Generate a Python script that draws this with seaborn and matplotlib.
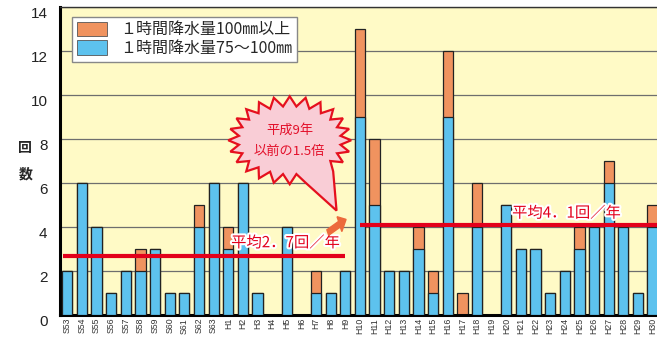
import numpy as np
import pandas as pd
import matplotlib
matplotlib.use("Agg")
import matplotlib.pyplot as plt
import matplotlib.patheffects as pe
import matplotlib.transforms as mtransforms
from matplotlib.patches import Patch, Polygon, FancyArrow
import seaborn as sns

# 年度ラベル
years = ["S53", "S54", "S55", "S56", "S57", "S58", "S59", "S60", "S61", "S62", "S63",
         "H1", "H2", "H3", "H4", "H5", "H6", "H7", "H8", "H9", "H10",
         "H11", "H12", "H13", "H14", "H15", "H16", "H17", "H18", "H19", "H20",
         "H21", "H22", "H23", "H24", "H25", "H26", "H27", "H28", "H29", "H30"]
# 1時間降水量75～100mm の回数
count_75_100 = [2, 6, 4, 1, 2, 2, 3, 1, 1, 4, 6,
                3, 6, 1, 0, 4, 0, 1, 1, 2, 9,
                5, 2, 2, 3, 1, 9, 0, 4, 0, 5,
                3, 3, 1, 2, 3, 4, 6, 4, 1, 4]
# 1時間降水量100mm以上 の回数
count_100 = [0, 0, 0, 0, 0, 1, 0, 0, 0, 1, 0,
             1, 0, 0, 0, 0, 0, 1, 0, 0, 4,
             3, 0, 0, 1, 1, 3, 1, 2, 0, 0,
             0, 0, 0, 0, 1, 0, 1, 0, 0, 1]
avg_before = 2.7   # S53～H9
avg_after = 4.1    # H10～H30

df = pd.DataFrame({"year": years, "c75": count_75_100, "c100": count_100})
df["total"] = df["c75"] + df["c100"]

blue = "#5DC2EE"
orange = "#F0935F"
red = "#E3001B"

sns.set_theme(style="white")
plt.rcParams["font.family"] = ["Noto Sans CJK JP", "DejaVu Sans"]

fig = plt.figure(figsize=(6.57, 3.40), dpi=100)
ax = fig.add_axes([0.0913, 0.0735, 0.9087, 0.905])
ax.set_facecolor("#FFFAC6")

# 積み上げ棒（合計をオレンジ、その上に青）
sns.barplot(data=df, x="year", y="total", order=years, color=orange,
            width=0.7, edgecolor="#222222", linewidth=0.9, saturation=1,
            ax=ax, zorder=2)
sns.barplot(data=df, x="year", y="c75", order=years, color=blue,
            width=0.7, edgecolor="#222222", linewidth=0.9, saturation=1,
            ax=ax, zorder=3)

ax.set_xlim(-0.5, 40.3)
ax.set_ylim(0, 14)
ax.set_yticks(range(0, 15, 2))
for y in range(2, 15, 2):
    ax.axhline(y, color="#6E6E6E", lw=0.9, zorder=1)

ax.tick_params(axis="x", labelsize=6.3, labelrotation=90, length=0, pad=2, colors="#333333")
ax.tick_params(axis="y", labelsize=11, length=0, pad=9, colors="#222222")
shift = mtransforms.ScaledTranslation(0, -4 / 72, fig.dpi_scale_trans)
for lab in ax.get_yticklabels():
    lab.set_family(["Liberation Sans", "DejaVu Sans"])
    lab.set_transform(lab.get_transform() + shift)
for lab in ax.get_xticklabels():
    lab.set_family(["Liberation Sans", "DejaVu Sans"])

ax.set_xlabel("")
ax.set_ylabel("回\n\n数", rotation=0, fontsize=10, fontweight="bold",
              va="center", linespacing=0.9)
ax.yaxis.set_label_coords(-0.058, 0.5)

for side in ["left", "bottom"]:
    ax.spines[side].set_linewidth(2.2)
    ax.spines[side].set_color("black")
ax.spines["top"].set_linewidth(1.0)
ax.spines["top"].set_color("#333333")
ax.spines["right"].set_visible(False)

# 平均線
split = years.index("H10")
ax.plot([-0.3, split - 1], [avg_before, avg_before], color=red, lw=3, zorder=5,
        solid_capstyle="butt")
ax.plot([split, 40.3], [avg_after, avg_after], color=red, lw=3, zorder=5,
        solid_capstyle="butt")
halo = [pe.withStroke(linewidth=3, foreground="white")]
ax.text(11.2, avg_before + 0.2, "平均2．7回／年", color=red, fontsize=11,
        va="bottom", ha="left", zorder=6, path_effects=halo)
ax.text(30.4, avg_after + 0.15, "平均4．1回／年", color=red, fontsize=11,
        va="bottom", ha="left", zorder=6, path_effects=halo)

# 吹き出し（爆発形）
cx, cy = 15.2, 7.95
n = 48
ang = np.linspace(0, 2 * np.pi, n, endpoint=False)
rad_x = np.where(np.arange(n) % 2 == 0, 4.2, 3.5)
rad_y = np.where(np.arange(n) % 2 == 0, 2.0, 1.55)
tip = (cx + 3.2, cy - 3.2)
verts = []
inserted = False
for a, rx, ry in zip(ang, rad_x, rad_y):
    deg = np.degrees(a)
    if 292 <= deg <= 310:
        if not inserted:
            verts.append(tip)
            inserted = True
        continue
    verts.append((cx + rx * np.cos(a), cy + ry * np.sin(a)))
ax.add_patch(Polygon(verts, closed=True, facecolor="#F9CDD6", edgecolor="#E5101E",
                     lw=1.6, zorder=7))
ax.text(cx, cy + 0.45, "平成9年", color="#E3102A", fontsize=9.5, ha="center",
        va="center", zorder=8)
ax.text(cx, cy - 0.5, "以前の1.5倍", color="#E3102A", fontsize=9.5, ha="center",
        va="center", zorder=8)
ax.add_patch(FancyArrow(17.8, 3.75, 1.25, 0.6, width=0.28, head_width=0.75,
                        head_length=0.5, color="#EC6A3C", zorder=8,
                        length_includes_head=True))

# 凡例
handles = [Patch(facecolor=orange, edgecolor="#555555", lw=0.6),
           Patch(facecolor=blue, edgecolor="#555555", lw=0.6)]
leg = ax.legend(handles, ["１時間降水量100㎜以上", "１時間降水量75～100㎜"],
                loc="upper left", bbox_to_anchor=(0.02, 0.97), fontsize=11.5,
                frameon=True, fancybox=False, framealpha=1, edgecolor="#888888",
                handlelength=1.9, handleheight=1.0, labelspacing=0.1,
                borderpad=0.3, handletextpad=0.8, borderaxespad=0)
leg.set_zorder(9)

fig.savefig("out.png", dpi=100, facecolor="white")
